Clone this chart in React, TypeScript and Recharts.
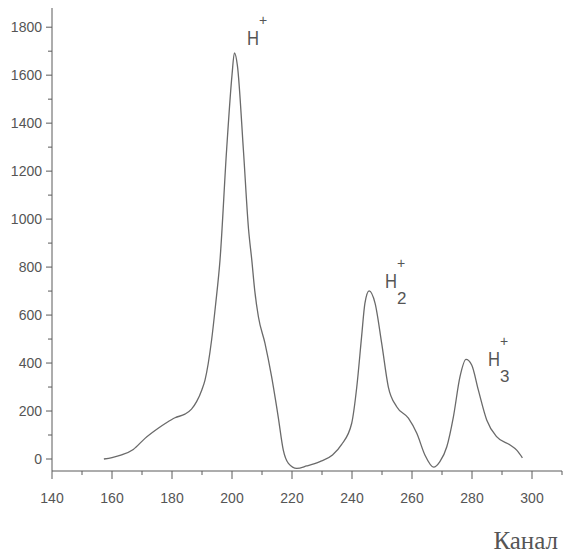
import { LineChart, Line, XAxis, YAxis, ReferenceDot } from "recharts";

// channel numbers and counts
const channels = [
  157.3, 160, 163.2, 167.1, 171, 175.4, 178, 181, 184.3, 186.5, 188.2, 190, 191, 193.2, 194.5, 196,
  198.2, 200, 200.8, 201.8, 203.8, 205.5, 206.6, 207.6, 208.8, 211, 213.2, 215.4, 217.1, 218.8,
  221.6, 224.9, 229.3, 233.5, 236.5, 239.9, 241.6, 243.2, 244.3, 245.7, 247.7, 249.9, 252.1, 254.9,
  258.8, 261.6, 264.3, 267.2, 269.3, 271.6, 273.8, 276, 278, 279.9, 282.1, 284.9, 288.2, 292.7, 294.9,
  296.8,
];
const counts = [
  0, 6, 17, 40, 86, 128, 150, 172, 187, 208, 239, 290, 329, 496, 640, 829,
  1288, 1600, 1693, 1640, 1288, 960, 829, 700, 593, 482, 343, 176, 37, -18,
  -39, -29, -11, 17, 60, 149, 301, 510, 649, 701, 649, 482, 301, 218,
  170, 107, 17, -34, -11, 51, 176, 343, 415, 392, 288, 163, 93, 58, 37,
  5,
];

const xTicks = [140, 150, 160, 170, 180, 190, 200, 210, 220, 230, 240, 250, 260, 270, 280, 290, 300, 310];
const yTicks = [0, 100, 200, 300, 400, 500, 600, 700, 800, 900, 1000, 1100, 1200, 1300, 1400, 1500, 1600, 1700, 1800];

// peak labels: ion, subscript, anchor (channel, count)
const peakNames = ["H", "H", "H"];
const peakSubs = ["", "2", "3"];
const peakChannels = [205, 251, 285.3];
const peakCounts = [1725, 712, 387];

const data = channels.map((c, i) => ({ ch: c, n: counts[i] }));

const AXIS = "#5a5a5a";
const TEXT = "#555555";
const FONT = "'Liberation Sans', Arial, sans-serif";

const XTick = (props: any) => {
  const { x, y, payload } = props;
  const major = payload.value % 20 === 0 && payload.value <= 300;
  return (
    <g>
      <line x1={x} x2={x} y1={y} y2={y + (major ? 8 : 4)} stroke={AXIS} strokeWidth={1} />
      {major && (
        <text x={x} y={y + 32} textAnchor="middle" fontSize={14} fill={TEXT} fontFamily={FONT}>
          {payload.value}
        </text>
      )}
    </g>
  );
};

const YTick = (props: any) => {
  const { x, y, payload } = props;
  const major = payload.value % 200 === 0;
  return (
    <g>
      <line x1={x} x2={x - (major ? 6 : 4)} y1={y} y2={y} stroke={AXIS} strokeWidth={1} />
      {major && (
        <text x={x - 10} y={y + 5} textAnchor="end" fontSize={14} fill={TEXT} fontFamily={FONT}>
          {payload.value}
        </text>
      )}
    </g>
  );
};

const ionLabel = (name: string, sub: string) => (props: any) => {
  const { cx, cy } = props;
  return (
    <g>
      <text
        x={cx}
        y={cy}
        fontSize={21}
        fill={TEXT}
        stroke="none"
        fontFamily={FONT}
        textLength={12}
        lengthAdjust="spacingAndGlyphs"
      >
        {name}
      </text>
      {sub && (
        <text x={cx + 12} y={cy + 16} fontSize={17} fill={TEXT} stroke="none" fontFamily={FONT}>
          {sub}
        </text>
      )}
      <text x={cx + 12} y={cy - 20} fontSize={14} fill={TEXT} stroke="none" fontFamily={FONT}>
        +
      </text>
    </g>
  );
};

export default function App() {
  return (
    <div style={{ position: "absolute", left: 0, top: 0, width: 568, height: 558, background: "#fff" }}>
      <LineChart width={568} height={558} data={data} margin={{ top: 8, right: 6, bottom: 57, left: 0 }}>
        <XAxis
          dataKey="ch"
          type="number"
          domain={[140, 310]}
          ticks={xTicks}
          interval={0}
          height={30}
          tickSize={0}
          tickMargin={0}
          stroke={AXIS}
          tick={XTick}
        />
        <YAxis
          type="number"
          domain={[-50, 1880]}
          ticks={yTicks}
          interval={0}
          width={52}
          tickSize={0}
          tickMargin={0}
          stroke={AXIS}
          tick={YTick}
        />
        <Line
          type="monotone"
          dataKey="n"
          stroke="#6a6a6a"
          strokeWidth={1.3}
          dot={false}
          isAnimationActive={false}
        />
        {peakNames.map((name, i) => (
          <ReferenceDot
            key={i}
            x={peakChannels[i]}
            y={peakCounts[i]}
            r={0}
            shape={ionLabel(name, peakSubs[i])}
          />
        ))}
      </LineChart>
      <div
        style={{
          position: "absolute",
          right: 10,
          top: 526,
          fontFamily: "'Liberation Serif', 'Times New Roman', serif",
          fontSize: 25,
          color: "#555",
          lineHeight: "30px",
        }}
      >
        Канал
      </div>
    </div>
  );
}
